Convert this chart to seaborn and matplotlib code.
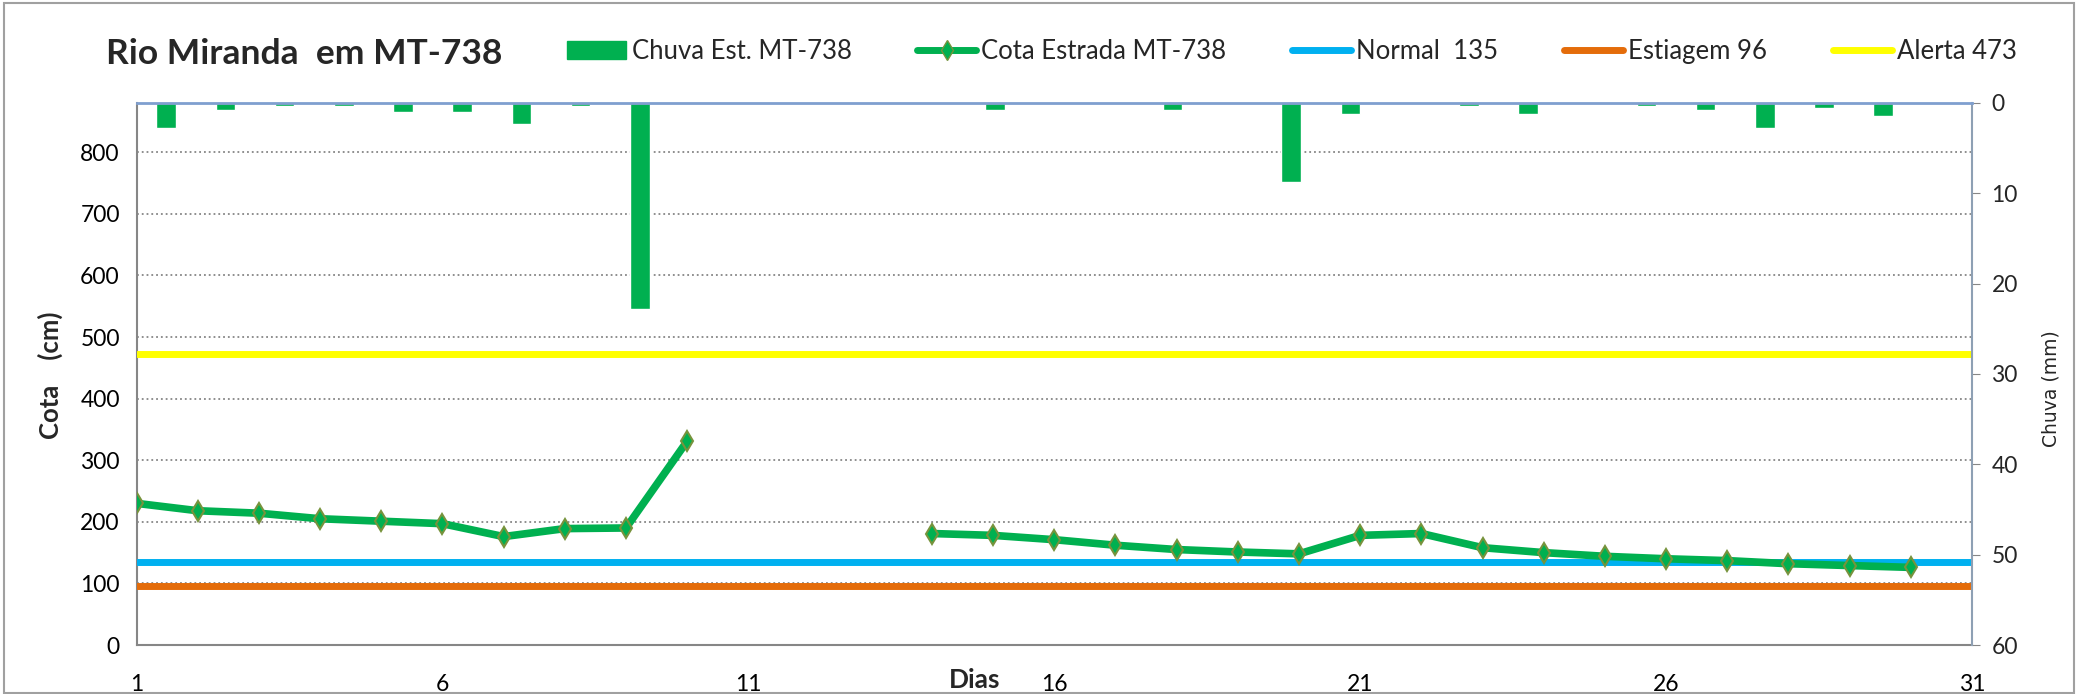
import numpy as np
import pandas as pd
import matplotlib
matplotlib.use("Agg")
import matplotlib.pyplot as plt
import seaborn as sns
from matplotlib.lines import Line2D
from matplotlib.patches import Patch, Rectangle

# Dados do gráfico
dias = list(range(1, 32))
chuva = [2.8, 0.8, 0.3, 0.3, 1.0, 1.0, 2.3, 0.3, 22.8, 0, 0, 0, 0, 0, 0.8, 0.1,
         0, 0.8, 0, 8.8, 1.2, 0.1, 0.3, 1.2, 0, 0.3, 0.8, 2.8, 0.5, 1.4, 0]
cota = [230, 218, 214, 205, 201, 197, 176, 189, 190, 331,
        np.nan, np.nan, np.nan, 181, 178, 171, 162, 155, 151, 148,
        178, 181, 158, 150, 144, 140, 137, 132, 129, 126, np.nan]
normal = 135
estiagem = 96
alerta = 473

titulo = "Rio Miranda  em MT-738"
nome_chuva = "Chuva Est. MT-738"
nome_cota = "Cota Estrada MT-738"
nome_normal = "Normal  135"
nome_estiagem = "Estiagem 96"
nome_alerta = "Alerta 473"

verde = "#00B050"
azul = "#00B0F0"
laranja = "#E46C0A"
amarelo = "#FFFF00"
cinza = "#868686"

sns.set_style("white")
plt.rcParams["font.family"] = ["Lato", "DejaVu Sans"]

fig = plt.figure(figsize=(20.78, 6.94), dpi=100)
rect = [0.0657, 0.0706, 0.8833, 0.781]

# eixo principal (cota)
ax = fig.add_axes(rect, zorder=1)
# eixo secundário (chuva) por cima
ax2 = fig.add_axes(rect, zorder=2)
ax2.patch.set_alpha(0)

# série da cota (com lacuna)
df = pd.DataFrame({"dia": dias, "cota": cota})
df["seg"] = df["cota"].isna().cumsum()
df = df.dropna()
sns.lineplot(data=df, x="dia", y="cota", units="seg", estimator=None, ax=ax,
             color=verde, lw=5.5, marker="d", markersize=10,
             markerfacecolor=verde, markeredgecolor="#77933C",
             markeredgewidth=1.5, zorder=5)

sns.lineplot(x=dias, y=[normal] * len(dias), ax=ax, color=azul, lw=5, zorder=4)
sns.lineplot(x=dias, y=[estiagem] * len(dias), ax=ax, color=laranja, lw=5, zorder=4)
sns.lineplot(x=dias, y=[alerta] * len(dias), ax=ax, color=amarelo, lw=5, zorder=4)

ax.set_xlim(1, 31)
ax.set_ylim(0, 880)
ax.set_xticks(range(1, 32, 5))
ax.set_yticks(range(0, 900, 100))
ax.yaxis.grid(True, linestyle=":", color=cinza, lw=1.3)
ax.tick_params(axis="both", labelsize=16.5, colors="black", length=6,
               color=cinza, direction="out")
ax.tick_params(axis="x", pad=15)
ax.tick_params(axis="y", pad=6)
ax.set_xlabel("")
ax.set_ylabel("")
for s in ["top", "right"]:
    ax.spines[s].set_visible(False)
for s in ["left", "bottom"]:
    ax.spines[s].set_color(cinza)
    ax.spines[s].set_linewidth(1.5)

# barras da chuva
sns.barplot(x=[str(d) for d in dias], y=chuva, ax=ax2, color=verde,
            width=0.33, saturation=1)
ax2.set_xlim(-0.5, 30.5)
ax2.set_ylim(60, 0)
ax2.set_yticks(range(0, 70, 10))
ax2.yaxis.tick_right()
ax2.set_xticks([])
ax2.tick_params(axis="y", labelsize=16.5, length=6, color=cinza, pad=8)
for s in ["left", "bottom"]:
    ax2.spines[s].set_visible(False)
ax2.spines["top"].set_color("#7F9FCF")
ax2.spines["top"].set_linewidth(2)
ax2.spines["right"].set_color("#8EA0B4")
ax2.spines["right"].set_linewidth(1.5)

# rótulos
fig.text(0.051, 0.922, titulo, fontsize=25.5, fontweight="bold", va="center")
fig.text(0.024, 0.46, "Cota    (cm)", fontsize=18.5, fontweight="bold",
         rotation=90, va="center", ha="center")
fig.text(0.469, 0.02, "Dias", fontsize=19, fontweight="bold",
         va="center", ha="center")
fig.text(0.987, 0.44, "Chuva (mm)", fontsize=13.5, rotation=90,
         va="center", ha="center", family="DejaVu Sans")

# legenda
handles = [
    Patch(facecolor=verde, edgecolor=verde),
    Line2D([], [], color=verde, lw=5, marker="d", markersize=10,
           markerfacecolor=verde, markeredgecolor="#77933C"),
    Line2D([], [], color=azul, lw=5),
    Line2D([], [], color=laranja, lw=5),
    Line2D([], [], color=amarelo, lw=5),
]
labels = [nome_chuva, nome_cota, nome_normal, nome_estiagem, nome_alerta]
fig.legend(handles, labels, loc="center left", bbox_to_anchor=(0.273, 0.926),
           ncol=5, frameon=False, fontsize=18.5, handlelength=2.3,
           handletextpad=0.2, columnspacing=2.55, borderpad=0,
           borderaxespad=0)

# borda da figura
fig.patches.append(Rectangle((0.002, 0.002), 0.996, 0.994, transform=fig.transFigure,
                             fill=False, edgecolor="#A0A0A0", lw=1.5))

fig.savefig("out.png", dpi=100)
